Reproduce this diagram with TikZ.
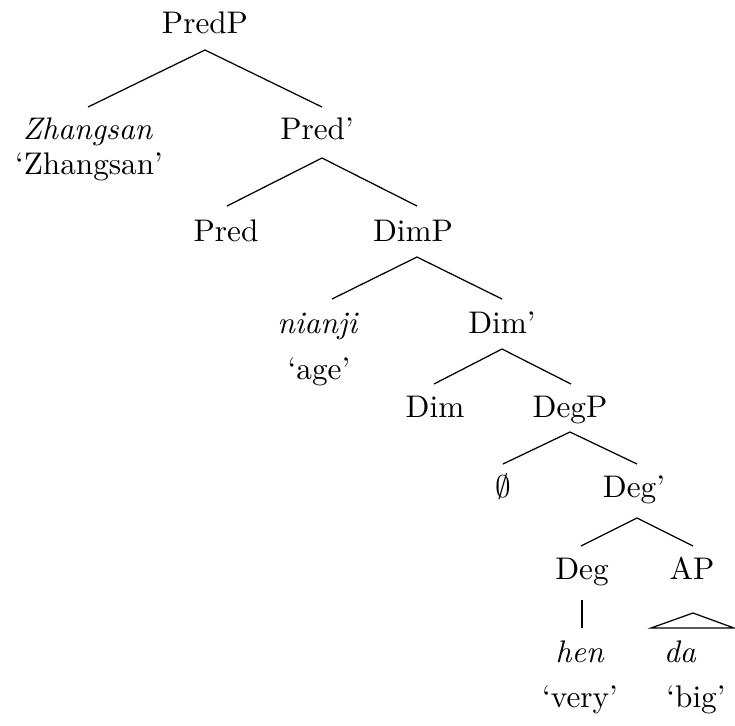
\documentclass[tikz,border=0pt]{standalone}
\usetikzlibrary{calc}
\begin{document}
\begin{tikzpicture}[x=0.32pt,y=-0.32pt,
  lbl/.style={anchor=base,inner sep=0pt,font=\normalsize},
  branch/.style={line width=0.4pt}]
\useasboundingbox (0,0) rectangle (735,726);
% labels
\node[lbl] (PredP) at (205,33) {PredP};
\node[lbl] (Zh) at (88,139) {\textit{Zhangsan}};
\node[lbl] (Zhg) at (89,174) {`Zhangsan'};
\node[lbl] (Predb) at (317,139) {Pred'};
\node[lbl] (Pred) at (226,241) {Pred};
\node[lbl] (DimP) at (413,241) {DimP};
\node[lbl] (nianji) at (318,333) {\textit{nianji}};
\node[lbl] (age) at (319,379) {`age'};
\node[lbl] (Dimb) at (502,333) {Dim'};
\node[lbl] (Dim) at (435,417) {Dim};
\node[lbl] (DegP) at (570,417) {DegP};
\node[lbl] (empty) at (503,497) {$\emptyset$};
\node[lbl] (Degb) at (634,497) {Deg'};
\node[lbl] (Deg) at (582,579) {Deg};
\node[lbl] (AP) at (692,579) {AP};
\node[lbl] (hen) at (580,662) {\textit{hen}};
\node[lbl] (very) at (580,707) {`very'};
\node[lbl] (da) at (680,662) {\textit{da}};
\node[lbl] (big) at (696,707) {`big'};
% branches
\draw[branch] ($(Zh.base)+(0,-32)$) -- ($(PredP.base)+(0,17)$) -- ($(Predb.base)+(5,-32)$);
\draw[branch] ($(Pred.base)+(1,-35)$) -- ($(Predb.base)+(5,19)$) -- ($(DimP.base)+(4,-35)$);
\draw[branch] ($(nianji.base)+(14,-34)$) -- ($(DimP.base)+(4,16)$) -- ($(Dimb.base)+(0,-34)$);
\draw[branch] ($(Dim.base)+(-1,-33)$) -- ($(Dimb.base)+(0,16)$) -- ($(DegP.base)+(1,-33)$);
\draw[branch] ($(empty.base)+(0,-33)$) -- ($(DegP.base)+(0,15)$) -- ($(Degb.base)+(3,-33)$);
\draw[branch] ($(Deg.base)+(-1,-33)$) -- ($(Degb.base)+(3,21)$) -- ($(AP.base)+(1,-33)$);
\draw[branch] ($(Deg.base)+(0,21)$) -- ($(hen.base)+(2,-34)$);
\draw[branch] ($(da.base)+(-29,-34)$) -- ($(AP.base)+(1,34)$) -- ($(da.base)+(54,-34)$) -- cycle;
\end{tikzpicture}
\end{document}
